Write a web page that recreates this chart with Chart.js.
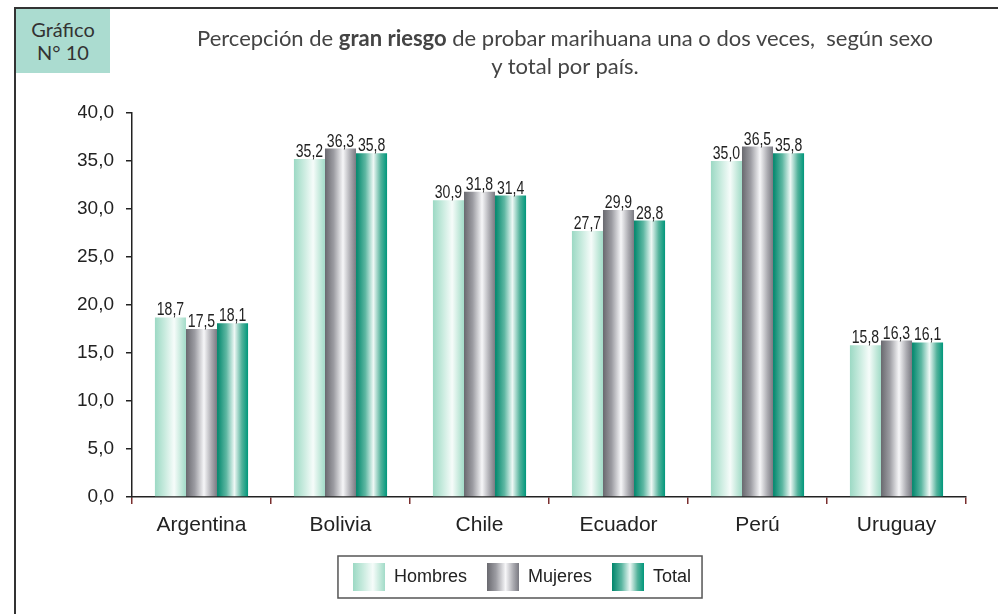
<!DOCTYPE html>
<html>
<head>
<meta charset="utf-8">
<script src="https://cdn.jsdelivr.net/npm/chart.js@4/dist/chart.umd.min.js"></script>
<style>
    body { margin: 0; background: #fff; }
    #page { position: relative; width: 998px; height: 614px; overflow: hidden; background: #fff; }
    #chart { position: absolute; left: 0; top: 0; }
    .frame-left { position: absolute; left: 14px; top: 7px; width: 2px; height: 620px; background: #333; }
    .frame-top { position: absolute; left: 14px; top: 7px; width: 990px; height: 2px; background: #333; }
    .badge {
        position: absolute; left: 16px; top: 9px; width: 94px; height: 64px;
        background: #abdcd0; color: #333; font: 20px Lato, sans-serif;
        text-align: center; line-height: 23px; padding-top: 9px; box-sizing: border-box;
    }
    .title {
        position: absolute; left: 140px; top: 24px; width: 850px;
        text-align: center; color: #444; font: 22px Lato, sans-serif; line-height: 28px;
    }
</style>
</head>
<body>
<div id="page">
    <canvas id="chart" width="998" height="614"></canvas>
    <div class="frame-top"></div>
    <div class="frame-left"></div>
    <div class="badge">Gráfico<br>N° 10</div>
    <div class="title">Percepción de <b>gran riesgo</b> de probar marihuana una o dos veces,&nbsp; según sexo<br>y total por país.</div>
</div>
<script>
countries = ['Argentina', 'Bolivia', 'Chile', 'Ecuador', 'Perú', 'Uruguay']
series_names = ['Hombres', 'Mujeres', 'Total']
hombres = [18.7, 35.2, 30.9, 27.7, 35.0, 15.8]
mujeres = [17.5, 36.3, 31.8, 29.9, 36.5, 16.3]
total = [18.1, 35.8, 31.4, 28.8, 35.8, 16.1]

// horizontal shading of each bar (stop, colour)
shades = [
    [[0, '#9cd9c4'], [0.3, '#c6eadd'], [0.62, '#f6fcfa'], [0.85, '#c2e8da'], [1, '#a2dbc8']],
    [[0, '#69696f'], [0.28, '#9c9ca2'], [0.58, '#f6f6f8'], [0.82, '#ababb1'], [1, '#7a7a82']],
    [[0, '#00866c'], [0.3, '#5db7a2'], [0.56, '#eef8f5'], [0.8, '#52b29b'], [1, '#00977b']]
]
base_colors = ['#a8dcca', '#8a8a90', '#00937a']

function fmt(v) {
    return v.toFixed(1).replace('.', ',')
}

function addStops(grad, stops) {
    stops.forEach(s => grad.addColorStop(s[0], s[1]))
    return grad
}

function swatch(stops) {
    const c = document.createElement('canvas')
    c.width = 32
    c.height = 28
    const g = c.getContext('2d')
    g.fillStyle = addStops(g.createLinearGradient(0, 0, 32, 0), stops)
    g.fillRect(0, 0, 32, 28)
    return c
}

const barShade = {
    id: 'barShade',
    beforeDatasetsDraw(chart) {
        const ctx = chart.ctx
        chart.data.datasets.forEach((ds, i) => {
            chart.getDatasetMeta(i).data.forEach(el => {
                const p = el.getProps(['x', 'width'], true)
                const grad = ctx.createLinearGradient(p.x - p.width / 2, 0, p.x + p.width / 2, 0)
                el.options.backgroundColor = addStops(grad, shades[i])
            })
        })
    }
}

// condensed value labels above each bar
const valueLabels = {
    id: 'valueLabels',
    afterDatasetsDraw(chart) {
        const ctx = chart.ctx
        chart.data.datasets.forEach((ds, i) => {
            chart.getDatasetMeta(i).data.forEach((el, j) => {
                ctx.save()
                ctx.translate(el.x, el.y - 2)
                ctx.scale(0.78, 1)
                ctx.font = '18px "Liberation Sans", Arial, sans-serif'
                ctx.fillStyle = '#222'
                ctx.textAlign = 'center'
                ctx.textBaseline = 'alphabetic'
                ctx.fillText(fmt(ds.data[j]), 0, 0)
                ctx.restore()
            })
        })
    }
}

const legendBox = {
    id: 'legendBox',
    afterDraw(chart) {
        const hb = chart.legend.legendHitBoxes
        if (!hb || !hb.length) return
        const ctx = chart.ctx
        const left = hb[0].left - 15
        const last = hb[hb.length - 1]
        const right = last.left + last.width + 11
        const mid = hb[0].top + hb[0].height / 2
        ctx.save()
        ctx.strokeStyle = '#555'
        ctx.lineWidth = 1.5
        ctx.strokeRect(left, mid - 21, right - left, 42)
        ctx.restore()
    }
}

const values = [hombres, mujeres, total]

chart = new Chart(document.getElementById('chart').getContext('2d'), {
    type: 'bar',
    data: {
        labels: countries,
        datasets: series_names.map((name, i) => ({
            label: name,
            data: values[i],
            backgroundColor: ctx => base_colors[ctx.datasetIndex],
            borderWidth: 0,
            categoryPercentage: 0.67,
            barPercentage: 1
        }))
    },
    options: {
        responsive: false,
        animation: false,
        layout: {
            padding: { left: 78, right: 32, top: 113, bottom: 18 }
        },
        plugins: {
            title: { display: false },
            tooltip: { enabled: false },
            legend: {
                position: 'bottom',
                labels: {
                    usePointStyle: true,
                    pointStyleWidth: 32,
                    padding: 20,
                    color: '#222',
                    font: { family: '"Liberation Sans", Arial, sans-serif', size: 18 },
                    generateLabels: chart => chart.data.datasets.map((ds, i) => ({
                        text: ds.label,
                        datasetIndex: i,
                        pointStyle: swatch(shades[i]),
                        fillStyle: base_colors[i],
                        strokeStyle: 'rgba(0,0,0,0)',
                        lineWidth: 0,
                        hidden: false,
                        fontColor: '#222'
                    }))
                }
            }
        },
        scales: {
            x: {
                afterFit: scale => { scale.height = 51 },
                grid: {
                    display: true,
                    drawOnChartArea: false,
                    offset: true,
                    tickLength: 7,
                    color: '#7a2f2f',
                    lineWidth: 1.5
                },
                border: { color: '#222', width: 1.5 },
                ticks: {
                    color: '#222',
                    padding: 9,
                    font: { family: '"Liberation Sans", Arial, sans-serif', size: 21 }
                }
            },
            y: {
                min: 0,
                max: 40,
                afterFit: scale => { scale.width = 54 },
                grid: {
                    drawOnChartArea: false,
                    tickLength: 6,
                    color: '#222',
                    lineWidth: 1.5
                },
                border: { color: '#222', width: 1.5 },
                ticks: {
                    stepSize: 5,
                    color: '#222',
                    padding: 12,
                    callback: v => fmt(v),
                    font: { family: '"Liberation Sans", Arial, sans-serif', size: 19 }
                }
            }
        }
    },
    plugins: [barShade, valueLabels, legendBox]
})
</script>
</body>
</html>
